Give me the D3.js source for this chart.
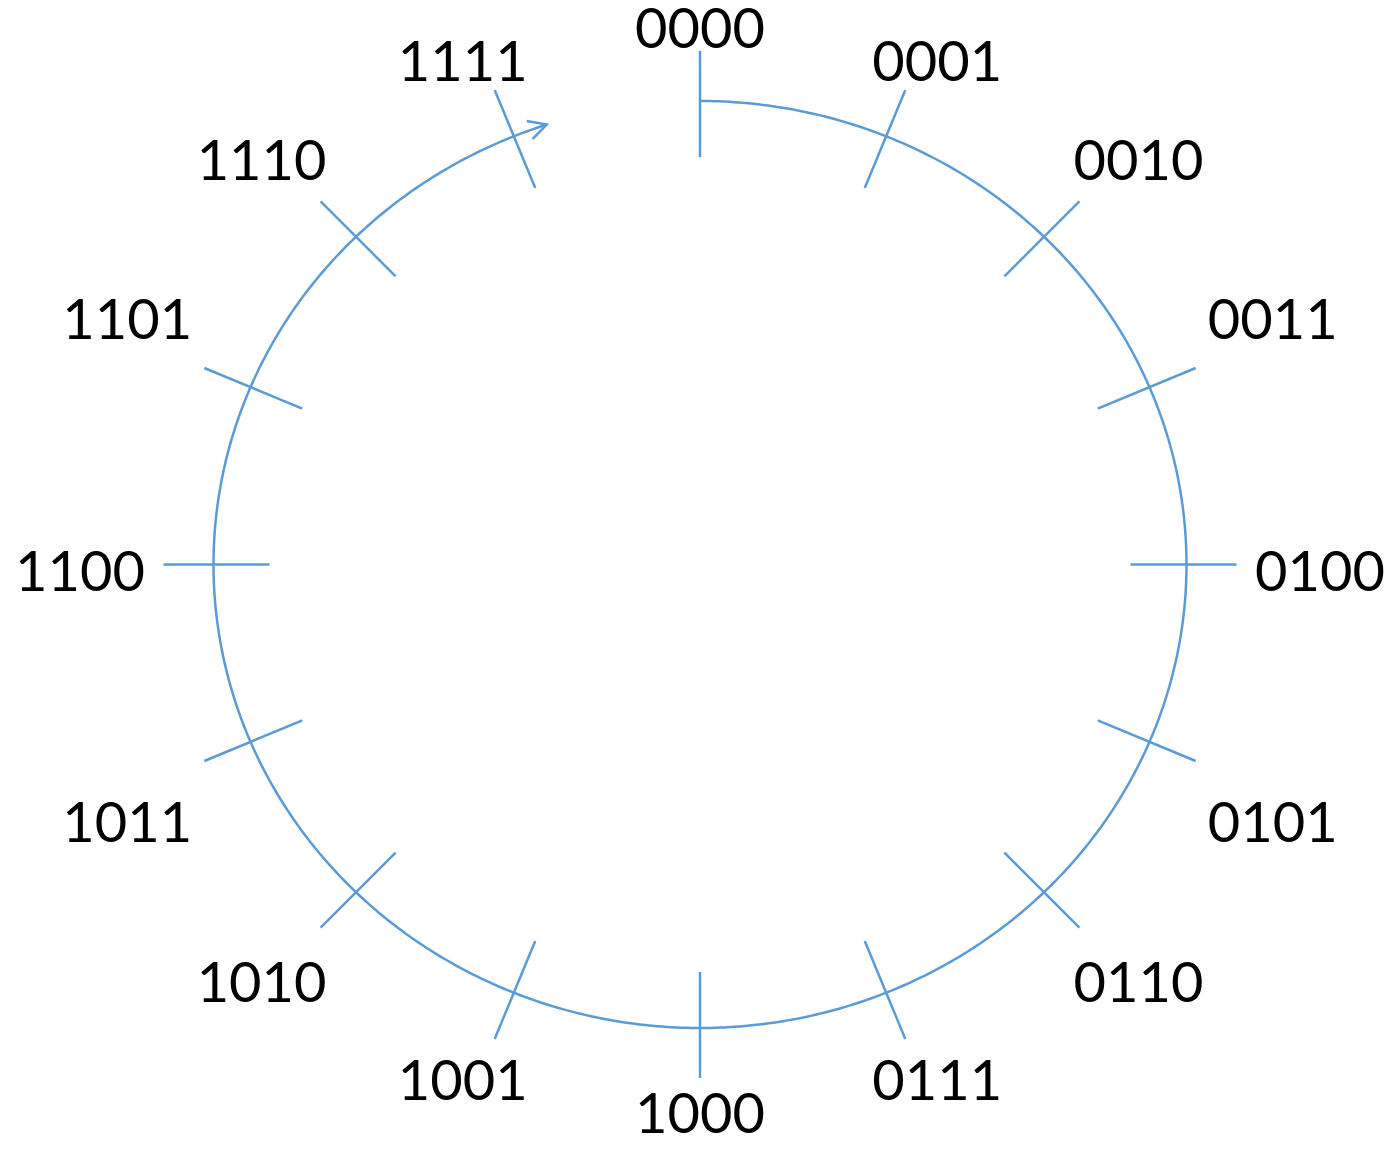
<!DOCTYPE html>
<html>
<head>
<meta charset="utf-8">
<script src="https://cdn.jsdelivr.net/npm/d3@7"></script>
<style>
  body { margin: 0; background: #ffffff; }
  text { font-family: Lato, "Open Sans", sans-serif; font-variant-numeric: tabular-nums; }
</style>
</head>
<body>
<svg id="chart"></svg>
<script>

// 4-bit counter states, clockwise from the top
var labels = ["0000","0001","0010","0011","0100","0101","0110","0111",
              "1000","1001","1010","1011","1100","1101","1110","1111"];

// how far round the arrow runs (fraction of a full turn)
var arcEnd = [0.949];

var width = 1391, height = 1151;
var azul = "#5b9bd5";

var svg = d3.select("#chart")
      .attr("width", width)
      .attr("height", height);

// index -> angle (clockwise from 12 o'clock)
var angle = d3.scaleLinear().domain([0, labels.length]).range([0, 2 * Math.PI]);

// unit circle -> ellipse on screen
var x = d3.scaleLinear().domain([-1, 1]).range([213.5, 1186.5]);
var y = d3.scaleLinear().domain([-1, 1]).range([101, 1028]);

// unit circle -> ring where the labels sit
var lx = d3.scaleLinear().domain([-1, 1]).range([80, 1320]);
var ly = d3.scaleLinear().domain([-1, 1]).range([28, 1113]);

svg.append("defs").append("marker")
      .attr("id", "flecha")
      .attr("viewBox", "-22 -12 26 24")
      .attr("refX", 0)
      .attr("refY", 0)
      .attr("markerWidth", 26)
      .attr("markerHeight", 24)
      .attr("markerUnits", "userSpaceOnUse")
      .attr("orient", "auto")
    .append("path")
      .attr("d", "M-18,-9.5L0,0L-18,9.5")
      .style("fill", "none")
      .style("stroke", azul)
      .style("stroke-width", 2.5);

// arc, sampled along the ellipse
var fin = arcEnd[0] * 2 * Math.PI;
var pasos = d3.range(0, fin, 0.01).concat([fin]);

var linea = d3.line()
      .x(function(a){ return x(Math.sin(a)); })
      .y(function(a){ return y(-Math.cos(a)); });

svg.append("path")
      .datum(pasos)
      .attr("d", linea)
      .attr("marker-end", "url(#flecha)")
      .style("fill", "none")
      .style("stroke", azul)
      .style("stroke-width", 2.5);

// tick marks across the arc
var dentro = 56, fuera = 50;

svg.selectAll(".marca")
      .data(labels)
      .enter().append("line")
      .attr("class", "marca")
      .attr("x1", function(d, i){ var a = angle(i); return x(Math.sin(a)) - Math.sin(a) * dentro; })
      .attr("y1", function(d, i){ var a = angle(i); return y(-Math.cos(a)) + Math.cos(a) * dentro; })
      .attr("x2", function(d, i){ var a = angle(i); return x(Math.sin(a)) + Math.sin(a) * fuera; })
      .attr("y2", function(d, i){ var a = angle(i); return y(-Math.cos(a)) - Math.cos(a) * fuera; })
      .style("stroke", azul)
      .style("stroke-width", 2.5);

// labels: boxes are wide, so the ring is squarer than the ellipse vertically
function anillo(c){
      return (c < 0 ? -1 : 1) * Math.pow(Math.abs(c), 0.8);
}

svg.selectAll(".etiqueta")
      .data(labels)
      .enter().append("text")
      .attr("class", "etiqueta")
      .attr("x", function(d, i){ return lx(Math.sin(angle(i))); })
      .attr("y", function(d, i){ return ly(anillo(-Math.cos(angle(i)))); })
      .attr("dy", "0.36em")
      .attr("text-anchor", "middle")
      .style("font-size", "56px")
      .style("fill", "#000000")
      .text(function(d){ return d; });

</script>
</body>
</html>
